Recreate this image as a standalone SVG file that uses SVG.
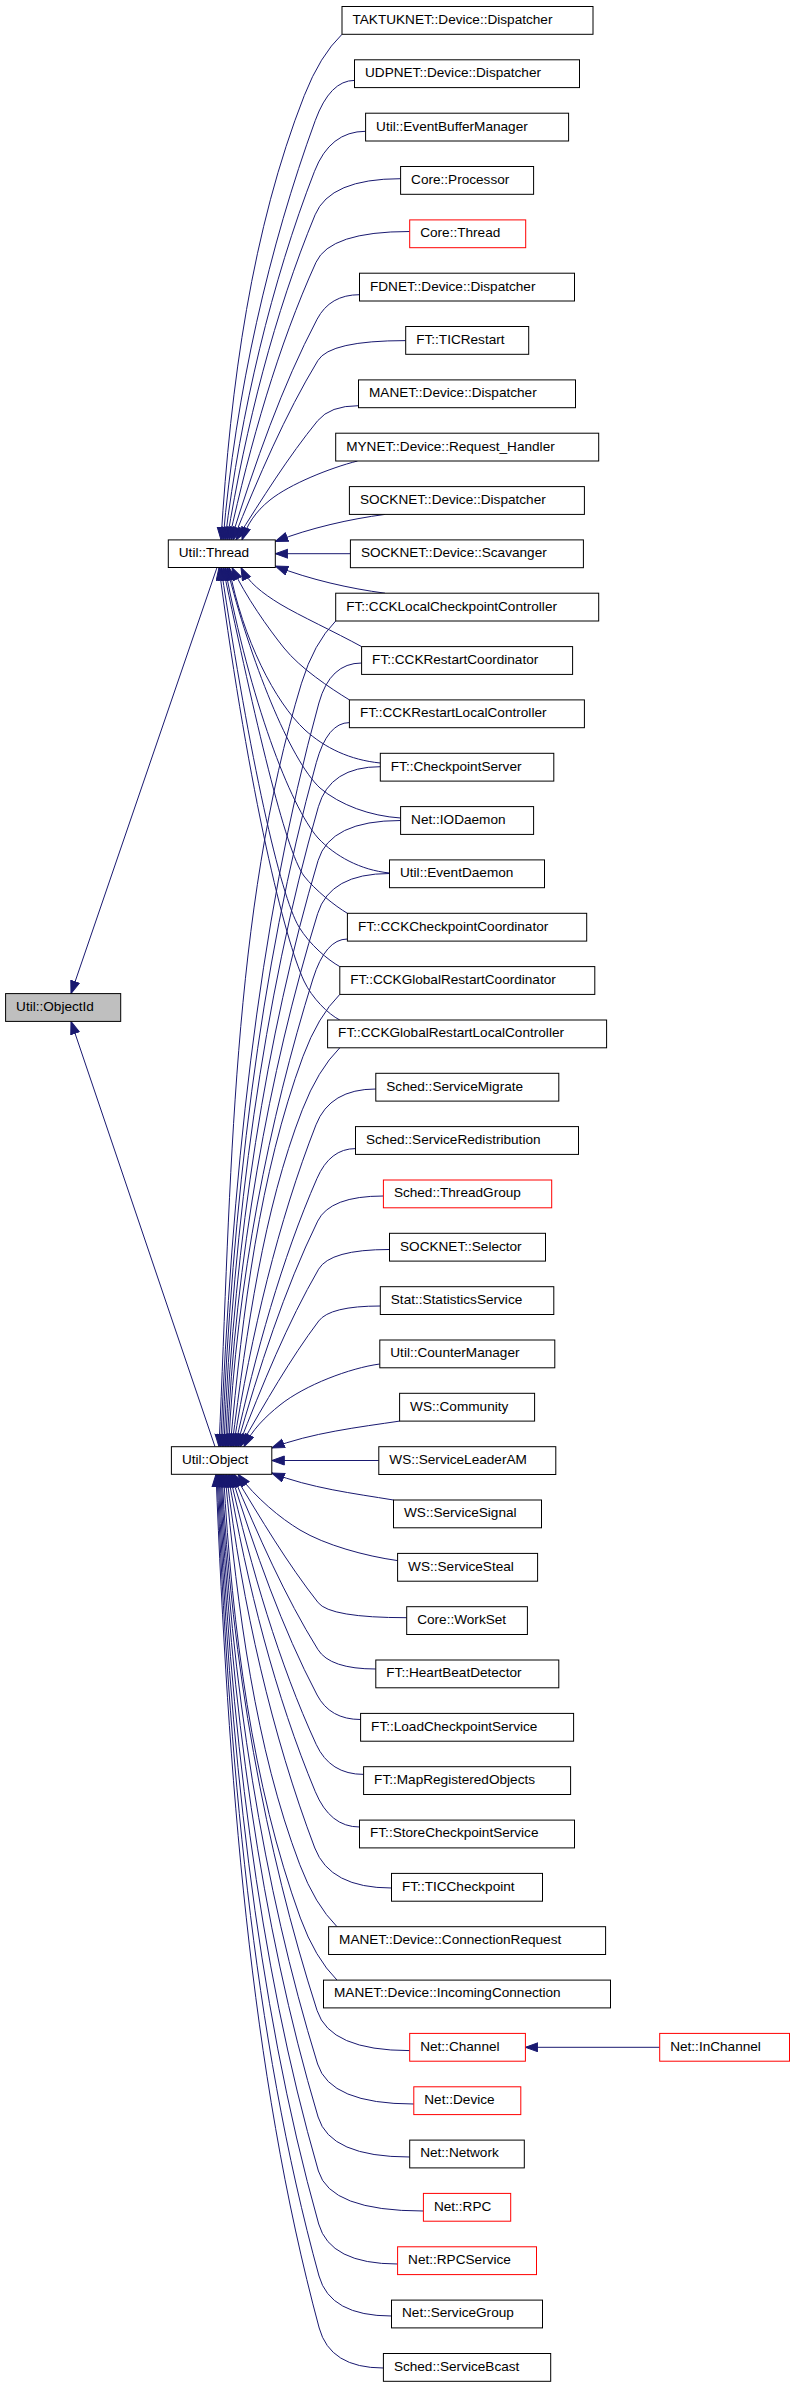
<svg xmlns="http://www.w3.org/2000/svg" width="795" height="2387" viewBox="0 0 795 2387">
<defs>
<style>
rect{fill:#fff;stroke:#000;stroke-width:1}
.r rect{stroke:#ff0000}
.g rect{fill:#bfbfbf}
text{font-family:"Liberation Sans",Arial,Helvetica,sans-serif;font-size:13.6px;fill:#000}
#edges path{fill:none;stroke:#191970;stroke-width:1;marker-end:url(#ah)}
</style>
<marker id="ah" markerUnits="userSpaceOnUse" markerWidth="15" markerHeight="11" refX="13" refY="5" orient="auto"><path d="M0.5,0.5 L13,5 L0.5,9.5 z" fill="#191970" stroke="#191970" stroke-width="1"/></marker>
</defs>
<rect x="0" y="0" width="795" height="2387" style="fill:#fff;stroke:none"/>
<g id="edges">
<path d="M342,34.3 Q320,55.5 304.3,95.5 C251.9,228.8 230.5,384.4 221,539.9"/>
<path d="M354.5,80.4 Q330,80.4 315.3,120.4 C269.2,246.3 235.6,393.1 223,539.9"/>
<path d="M365.6,131.3 Q330,131.3 314.5,171.3 C271.6,281.9 241,410.9 225,539.9"/>
<path d="M400.6,178.7 Q330,178.7 315.1,214.8 C274.7,312.3 245.8,426.1 227,539.9"/>
<path d="M409.7,231.5 Q330,231.5 316,262.3 C278.2,345.6 250.4,442.7 229,539.9"/>
<path d="M359.5,294.7 Q330,294.7 317.1,319.2 C282.2,385.4 255.1,462.7 231,539.9"/>
<path d="M405.7,340.6 Q330,340.6 317.9,360.5 C285.2,414.3 258.5,477.1 233,539.9"/>
<path d="M358.5,405.7 Q330,405.7 317.7,420.7 C288.4,456.5 262.5,498.2 236,539.9"/>
<path d="M357.5,461 C330,468 290,484 270,500 C255,512 247,525 242,539.9"/>
<path d="M385,514.4 C350,519 310,528 275.3,541.5"/>
<path d="M350.4,553.7 L275.3,553.7"/>
<path d="M385,593.2 C350,588.6 310,579.6 275.3,566.1"/>
<path d="M361.6,646.6 C335,632 300,616 280,604 C262,593 248,582 241,567.5"/>
<path d="M349.4,699.9 C330,688 300,668 284,648 C268,628 246,597 232,567.5"/>
<path d="M380.3,763 C350,760 325,748 305,730 C275,702 243,640 229,567.5"/>
<path d="M400.6,818 C370,816 340,805 320,788 C290,760 250,660 227,567.5"/>
<path d="M389.5,873 C360,870 335,856 318,838 C290,806 250,700 225,567.5"/>
<path d="M347.4,913.3 C335,906 315,890 304,876 C285,850 255,720 223,567.5"/>
<path d="M339.8,966.6 C328,960 310,945 299,927 C280,895 250,760 221,567.5"/>
<path d="M339.8,1020 C328,1014 312,998 304,981 C285,940 250,800 219,567.5"/>
<path d="M217,567.5 L71,993.6"/>
<path d="M215,1446.7 L71,1021.4"/>
<path d="M335.7,621 Q313.7,643.2 301.5,683.2 C231.9,912.2 231.2,1179.5 219,1446.7"/>
<path d="M361.6,663 Q330,663 318.9,703 C257.2,926.1 231.4,1186.4 220.6,1446.7"/>
<path d="M349.4,722.6 Q327.4,722.6 316.3,762.6 C259.5,967.8 232.1,1207.3 222.2,1446.7"/>
<path d="M380.3,766.7 Q330,766.7 318.4,806.7 C262.9,998.7 233.5,1222.7 223.8,1446.7"/>
<path d="M400.6,820.5 Q330,820.5 318.1,860.5 C265.7,1036.4 234.6,1241.5 225.4,1446.7"/>
<path d="M389.5,873.5 Q330,873.5 317.7,913.5 C268.4,1073.5 235.6,1260.1 227,1446.7"/>
<path d="M347.4,939 Q325.4,939 312.9,979 C269.2,1119.3 236.5,1283 228.6,1446.7"/>
<path d="M339.8,994.4 Q317.8,1016.4 303,1056.4 C259.8,1173.5 242.6,1310.1 230.2,1446.7"/>
<path d="M339.8,1047.8 Q317.8,1069.8 302.3,1109.8 C263.1,1210.9 247.1,1328.8 231.8,1446.7"/>
<path d="M375.8,1089 Q330,1089 316,1124.8 C278.2,1221.4 251.2,1334 233.4,1446.7"/>
<path d="M355.5,1148.6 Q330,1148.6 317,1178.4 C281.8,1258.9 255.7,1352.8 235,1446.7"/>
<path d="M383.4,1196 Q330,1196 317.7,1221.1 C284.6,1288.8 259.1,1367.7 236.6,1446.7"/>
<path d="M389.5,1249.5 Q330,1249.5 318.6,1269.2 C287.7,1322.5 262.4,1384.6 238.2,1446.7"/>
<path d="M380.3,1306 Q330,1306 318.7,1321 C290.3,1358.7 265.3,1402.7 240,1446.7"/>
<path d="M379.8,1364 C350,1368 305,1385 280,1405 C265,1417 252,1430 244,1446.7"/>
<path d="M399.6,1421.1 C360,1427 310,1433 271.8,1448"/>
<path d="M378.8,1460.5 L271.8,1460.5"/>
<path d="M393.5,1500 C354,1493.5 310,1488 271.8,1473"/>
<path d="M397.6,1560.6 C365,1556 325,1545 300,1530 C280,1518 256,1498 238,1474.3"/>
<path d="M406.7,1617.7 Q330,1617.7 318.2,1602.7 C287.8,1564.2 261,1519.2 234,1474.3"/>
<path d="M375.8,1669 Q330,1669 317.9,1649.5 C285.1,1596.9 258.3,1535.6 232.5,1474.3"/>
<path d="M360.6,1719.5 Q330,1719.5 317.1,1695 C282.2,1628.8 255.1,1551.5 231,1474.3"/>
<path d="M363.6,1774.4 Q330,1774.4 316.2,1744.4 C278.9,1663.4 251.3,1568.8 229.5,1474.3"/>
<path d="M359.5,1827 Q330,1827 315.3,1791.7 C275.6,1696.5 247.1,1585.4 228,1474.3"/>
<path d="M391.5,1888 Q330,1888 314.8,1848 C272.3,1735.9 241.9,1605.1 226.5,1474.3"/>
<path d="M337,1926.7 Q315,1904.7 299.8,1864.7 C255.4,1747.6 237.7,1610.9 225,1474.3"/>
<path d="M337,1980.1 Q315,1958.1 300.4,1918.1 C252,1785 232.4,1629.6 223.5,1474.3"/>
<path d="M409.7,2050.6 Q330,2050.6 317.1,2010.6 C265.2,1849.7 231.1,1662 222,1474.3"/>
<path d="M413.8,2104 Q330,2104 317.6,2064 C262.9,1887.1 230.6,1680.7 221,1474.3"/>
<path d="M409.7,2157 Q330,2157 318.1,2117 C260.5,1924.2 230.1,1699.2 220,1474.3"/>
<path d="M423.4,2211 Q330,2211 318.4,2171 C257.9,1962 229.6,1718.1 219,1474.3"/>
<path d="M397.6,2264 Q330,2264 318.7,2224 C255.3,1999.1 229.1,1736.7 218,1474.3"/>
<path d="M391.5,2316 Q330,2316 319,2276 C252.7,2035.5 228.6,1754.9 217,1474.3"/>
<path d="M383.4,2368 Q330,2368 319.2,2328 C250.1,2071.9 228.1,1773.1 216,1474.3"/>
<path d="M659.7,2047.3 L525.4,2047.3"/>
</g>
<g id="util-objectid" class="g"><rect x="5.6" y="993.6" width="115.1" height="27.8"/><text x="16.1" y="1010.9">Util::ObjectId</text></g>
<g id="util-thread"><rect x="168.3" y="539.9" width="107" height="27.6"/><text x="178.8" y="557.2">Util::Thread</text></g>
<g id="util-object"><rect x="171.4" y="1446.7" width="100.4" height="27.6"/><text x="181.9" y="1464">Util::Object</text></g>
<g id="taktuknet-dispatcher"><rect x="342" y="6.5" width="251" height="27.8"/><text x="352.5" y="23.8">TAKTUKNET::Device::Dispatcher</text></g>
<g id="udpnet-dispatcher"><rect x="354.5" y="59.8" width="225" height="27.8"/><text x="365" y="77.1">UDPNET::Device::Dispatcher</text></g>
<g id="util-eventbuffermanager"><rect x="365.6" y="113.2" width="203" height="27.8"/><text x="376.1" y="130.5">Util::EventBufferManager</text></g>
<g id="core-processor"><rect x="400.6" y="166.5" width="133" height="27.8"/><text x="411.1" y="183.8">Core::Processor</text></g>
<g id="core-thread" class="r"><rect x="409.7" y="219.9" width="116" height="27.8"/><text x="420.2" y="237.2">Core::Thread</text></g>
<g id="fdnet-dispatcher"><rect x="359.5" y="273.2" width="215" height="27.8"/><text x="370" y="290.5">FDNET::Device::Dispatcher</text></g>
<g id="ft-ticrestart"><rect x="405.7" y="326.5" width="123" height="27.8"/><text x="416.2" y="343.8">FT::TICRestart</text></g>
<g id="manet-dispatcher"><rect x="358.5" y="379.9" width="217" height="27.8"/><text x="369" y="397.2">MANET::Device::Dispatcher</text></g>
<g id="mynet-request-handler"><rect x="335.7" y="433.2" width="263" height="27.8"/><text x="346.2" y="450.5">MYNET::Device::Request_Handler</text></g>
<g id="socknet-dispatcher"><rect x="349.4" y="486.6" width="235" height="27.8"/><text x="359.9" y="503.9">SOCKNET::Device::Dispatcher</text></g>
<g id="socknet-scavanger"><rect x="350.4" y="539.9" width="233" height="27.8"/><text x="360.9" y="557.2">SOCKNET::Device::Scavanger</text></g>
<g id="ft-ccklocalcheckpointcontroller"><rect x="335.7" y="593.2" width="263" height="27.8"/><text x="346.2" y="610.5">FT::CCKLocalCheckpointController</text></g>
<g id="ft-cckrestartcoordinator"><rect x="361.6" y="646.6" width="211" height="27.8"/><text x="372.1" y="663.9">FT::CCKRestartCoordinator</text></g>
<g id="ft-cckrestartlocalcontroller"><rect x="349.4" y="699.9" width="235" height="27.8"/><text x="359.9" y="717.2">FT::CCKRestartLocalController</text></g>
<g id="ft-checkpointserver"><rect x="380.3" y="753.3" width="173.5" height="27.8"/><text x="390.8" y="770.6">FT::CheckpointServer</text></g>
<g id="net-iodaemon"><rect x="400.6" y="806.6" width="133" height="27.8"/><text x="411.1" y="823.9">Net::IODaemon</text></g>
<g id="util-eventdaemon"><rect x="389.5" y="859.9" width="155" height="27.8"/><text x="400" y="877.2">Util::EventDaemon</text></g>
<g id="ft-cckcheckpointcoordinator"><rect x="347.4" y="913.3" width="239.3" height="27.8"/><text x="357.9" y="930.6">FT::CCKCheckpointCoordinator</text></g>
<g id="ft-cckglobalrestartcoordinator"><rect x="339.8" y="966.6" width="255" height="27.8"/><text x="350.3" y="983.9">FT::CCKGlobalRestartCoordinator</text></g>
<g id="ft-cckglobalrestartlocalcontroller"><rect x="327.6" y="1020" width="279" height="27.8"/><text x="338.1" y="1037.3">FT::CCKGlobalRestartLocalController</text></g>
<g id="sched-servicemigrate"><rect x="375.8" y="1073.3" width="183" height="27.8"/><text x="386.3" y="1090.6">Sched::ServiceMigrate</text></g>
<g id="sched-serviceredistribution"><rect x="355.5" y="1126.6" width="223" height="27.8"/><text x="366" y="1143.9">Sched::ServiceRedistribution</text></g>
<g id="sched-threadgroup" class="r"><rect x="383.4" y="1180" width="168.3" height="27.8"/><text x="393.9" y="1197.3">Sched::ThreadGroup</text></g>
<g id="socknet-selector"><rect x="389.5" y="1233.3" width="156" height="27.8"/><text x="400" y="1250.6">SOCKNET::Selector</text></g>
<g id="stat-statisticsservice"><rect x="380.3" y="1286.7" width="173.5" height="27.8"/><text x="390.8" y="1304">Stat::StatisticsService</text></g>
<g id="util-countermanager"><rect x="379.8" y="1340" width="175" height="27.8"/><text x="390.3" y="1357.3">Util::CounterManager</text></g>
<g id="ws-community"><rect x="399.6" y="1393.3" width="135" height="27.8"/><text x="410.1" y="1410.6">WS::Community</text></g>
<g id="ws-serviceleaderam"><rect x="378.8" y="1446.7" width="177" height="27.8"/><text x="389.3" y="1464">WS::ServiceLeaderAM</text></g>
<g id="ws-servicesignal"><rect x="393.5" y="1500" width="148" height="27.8"/><text x="404" y="1517.3">WS::ServiceSignal</text></g>
<g id="ws-servicesteal"><rect x="397.6" y="1553.4" width="140" height="27.8"/><text x="408.1" y="1570.7">WS::ServiceSteal</text></g>
<g id="core-workset"><rect x="406.7" y="1606.7" width="120.7" height="27.8"/><text x="417.2" y="1624">Core::WorkSet</text></g>
<g id="ft-heartbeatdetector"><rect x="375.8" y="1660" width="183" height="27.8"/><text x="386.3" y="1677.3">FT::HeartBeatDetector</text></g>
<g id="ft-loadcheckpointservice"><rect x="360.6" y="1713.4" width="213" height="27.8"/><text x="371.1" y="1730.7">FT::LoadCheckpointService</text></g>
<g id="ft-mapregisteredobjects"><rect x="363.6" y="1766.7" width="207" height="27.8"/><text x="374.1" y="1784">FT::MapRegisteredObjects</text></g>
<g id="ft-storecheckpointservice"><rect x="359.5" y="1820.1" width="215" height="27.8"/><text x="370" y="1837.4">FT::StoreCheckpointService</text></g>
<g id="ft-ticcheckpoint"><rect x="391.5" y="1873.4" width="151" height="27.8"/><text x="402" y="1890.7">FT::TICCheckpoint</text></g>
<g id="manet-connectionrequest"><rect x="328.6" y="1926.7" width="277" height="27.8"/><text x="339.1" y="1944">MANET::Device::ConnectionRequest</text></g>
<g id="manet-incomingconnection"><rect x="323.5" y="1980.1" width="287" height="27.8"/><text x="334" y="1997.4">MANET::Device::IncomingConnection</text></g>
<g id="net-channel" class="r"><rect x="409.7" y="2033.4" width="115.7" height="27.8"/><text x="420.2" y="2050.7">Net::Channel</text></g>
<g id="net-inchannel" class="r"><rect x="659.7" y="2033.4" width="129.8" height="27.8"/><text x="670.2" y="2050.7">Net::InChannel</text></g>
<g id="net-device" class="r"><rect x="413.8" y="2086.8" width="107" height="27.8"/><text x="424.3" y="2104.1">Net::Device</text></g>
<g id="net-network"><rect x="409.7" y="2140.1" width="114.6" height="27.8"/><text x="420.2" y="2157.4">Net::Network</text></g>
<g id="net-rpc" class="r"><rect x="423.4" y="2193.4" width="87.3" height="27.8"/><text x="433.9" y="2210.7">Net::RPC</text></g>
<g id="net-rpcservice" class="r"><rect x="397.6" y="2246.8" width="138.9" height="27.8"/><text x="408.1" y="2264.1">Net::RPCService</text></g>
<g id="net-servicegroup"><rect x="391.5" y="2300.1" width="151" height="27.8"/><text x="402" y="2317.4">Net::ServiceGroup</text></g>
<g id="sched-servicebcast"><rect x="383.4" y="2353.5" width="167.3" height="27.8"/><text x="393.9" y="2370.8">Sched::ServiceBcast</text></g>
</svg>
